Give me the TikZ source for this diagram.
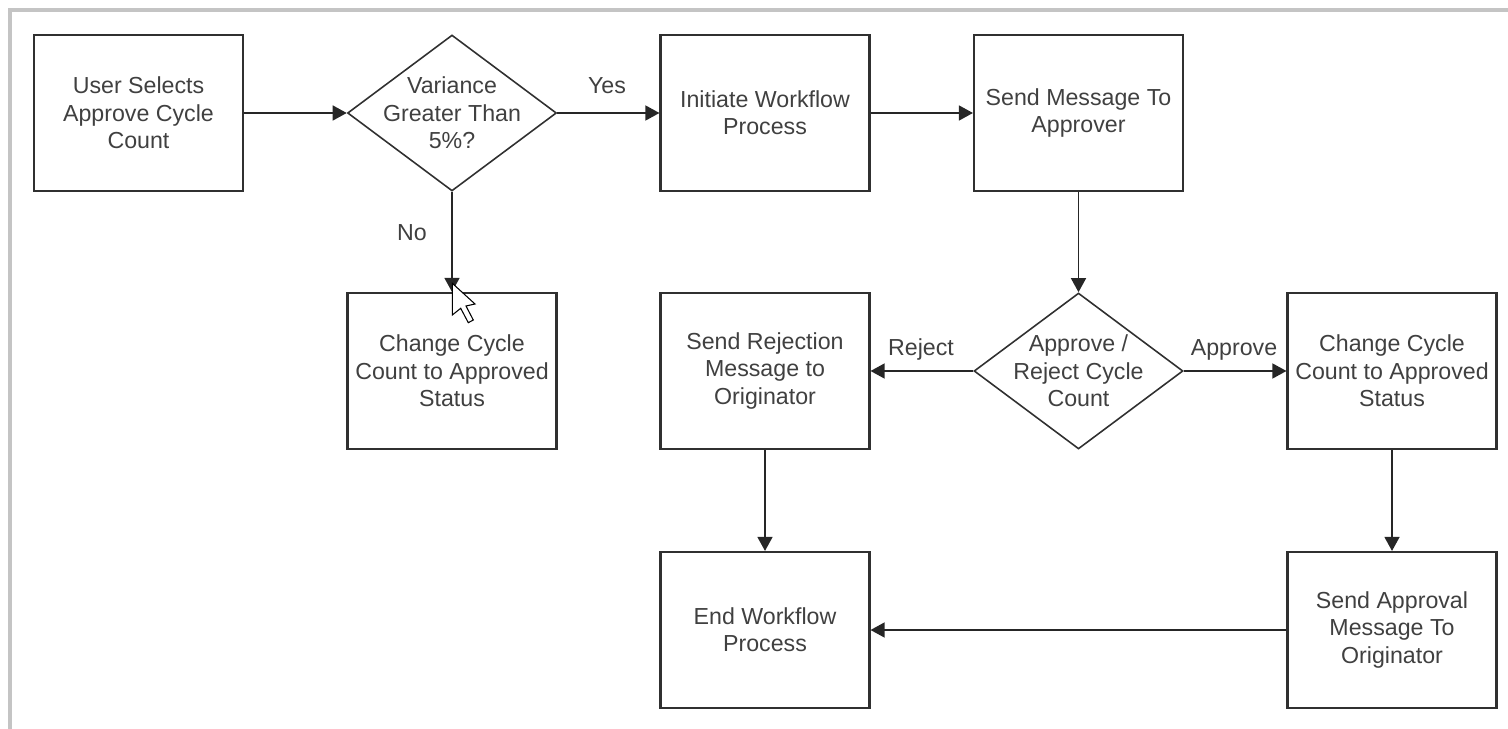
\documentclass[tikz,border=0pt]{standalone}
\usepackage{fontspec}
\setmainfont{Liberation Sans}
\usepackage{xcolor}
\usetikzlibrary{arrows.meta,shapes.geometric}
\definecolor{edgegray}{HTML}{303030}
\definecolor{textgray}{HTML}{404040}
\definecolor{framegray}{HTML}{C4C4C4}
\tikzset{
    procbox/.style={draw=edgegray, line width=1.2pt, minimum width=4.18cm, minimum height=3.12cm,
        inner sep=0pt, align=center, font=\fontsize{13.2}{15.6}\selectfont, text=textgray},
    decisionbox/.style={diamond, draw=edgegray, line width=0.9pt, minimum width=4.18cm, minimum height=3.12cm,
        inner sep=-9pt, align=center, font=\fontsize{13.2}{15.6}\selectfont, text=textgray},
    flowarrow/.style={draw=black!85, line width=1pt, -{Triangle[length=8pt,width=8.5pt]}},
    flowlabel/.style={font=\fontsize{13.2}{15.6}\selectfont, text=textgray},
}

\begin{document}
\begin{tikzpicture}[x=0.02cm, y=-0.02cm]
    \useasboundingbox (0,0) rectangle (1508,729);
    % =====================
    % Window frame
    % =====================
    \draw[framegray, line width=2pt] (10,729) -- (10,10) -- (1508,10);

    % =====================
    % Top row
    % =====================
    \node[procbox] (selects) at (138.5,113) {User Selects\\Approve Cycle\\Count};
    \node[decisionbox] (variance) at (452,113) {Variance\\Greater Than\\5\%?};
    \node[procbox] (initiate) at (765,113) {Initiate Workflow\\Process};
    \node[procbox] (sendmsg) at (1078.5,113) {Send Message To\\Approver};

    % =====================
    % Middle row
    % =====================
    \node[procbox] (changeleft) at (452,371) {Change Cycle\\Count to Approved\\Status};
    \node[procbox] (rejection) at (765,371) {Send Rejection\\Message to\\Originator};
    \node[decisionbox] (approve) at (1078.5,371) {Approve /\\Reject Cycle\\Count};
    \node[procbox] (changeright) at (1392,371) {Change Cycle\\Count to Approved\\Status};

    % =====================
    % Bottom row
    % =====================
    \node[procbox] (endflow) at (765,630) {End Workflow\\Process};
    \node[procbox] (approval) at (1392,630) {Send Approval\\Message To\\Originator};

    % Connectors
    \draw[flowarrow] (selects) -- (variance);
    \draw[flowarrow] (variance) -- (initiate);
    \draw[flowarrow] (initiate) -- (sendmsg);
    \draw[flowarrow] (sendmsg) -- (approve);
    \draw[flowarrow] (variance) -- (changeleft);
    \draw[flowarrow] (approve) -- (rejection);
    \draw[flowarrow] (approve) -- (changeright);
    \draw[flowarrow] (rejection) -- (endflow);
    \draw[flowarrow] (changeright) -- (approval);
    \draw[flowarrow] (approval) -- (endflow);

    % Labels
    \node[flowlabel] (yes) at (607,86) {Yes};
    \node[flowlabel] (no) at (412,233) {No};
    \node[flowlabel] (reject) at (921,350) {Reject};
    \node[flowlabel] (approved) at (1234,350) {Approve};

    % Mouse pointer
    \filldraw[fill=white, draw=black, line width=0.6pt, line join=miter]
        (452.3,283.3) -- (452.3,315) -- (460.7,308.3) -- (468.3,322.7)
        -- (473.3,320) -- (466,306) -- (475,304) -- cycle;
\end{tikzpicture}
\end{document}
